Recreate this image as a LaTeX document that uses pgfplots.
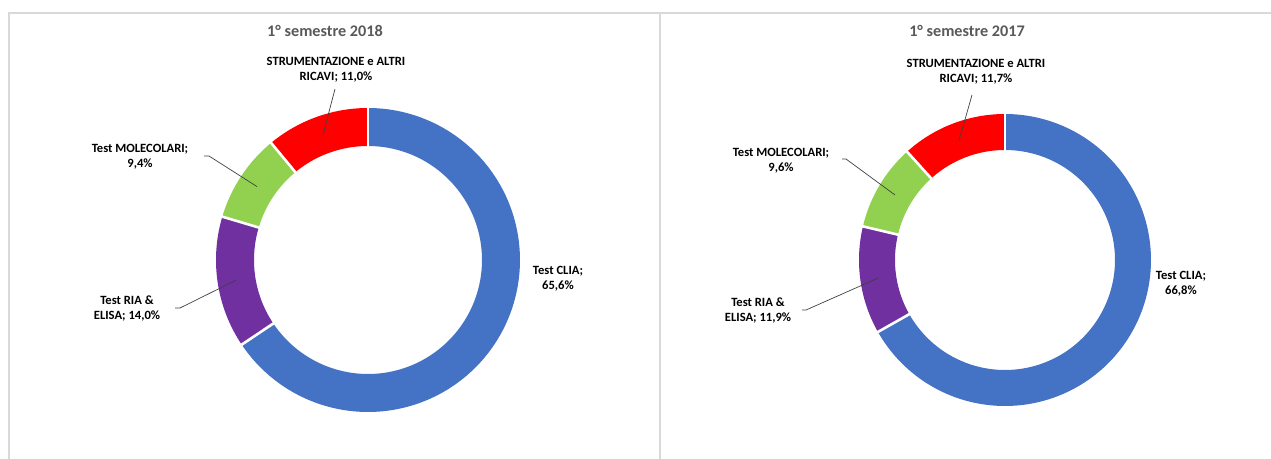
\documentclass[border=0pt]{standalone}
\usepackage{fontspec}
\setmainfont{Carlito}
\usepackage{pgfplots}
\usepackage{pgfplotstable}
\pgfplotsset{compat=1.18}
\definecolor{cblue}{HTML}{4472C4}
\definecolor{cpurple}{HTML}{7030A0}
\definecolor{cgreen}{HTML}{92D050}
\definecolor{cred}{HTML}{FF0000}
\definecolor{cframe}{HTML}{D9D9D9}
\definecolor{ctitle}{HTML}{595959}
\definecolor{cleader}{HTML}{404040}

% 1 semestre 2018
\pgfplotstableread{
name value
CLIA 65.6
RIA 14.0
MOL 9.4
STR 11.0
}\tabA
% 1 semestre 2017
\pgfplotstableread{
name value
CLIA 66.8
RIA 11.9
MOL 9.6
STR 11.7
}\tabB

% cumulative angles (start at 12 o'clock, clockwise)
\newcommand\setangles[2]{%
  \pgfplotstablegetelem{0}{value}\of#1\let\va\pgfplotsretval
  \pgfplotstablegetelem{1}{value}\of#1\let\vb\pgfplotsretval
  \pgfplotstablegetelem{2}{value}\of#1\let\vc\pgfplotsretval
  \pgfplotstablegetelem{3}{value}\of#1\let\vd\pgfplotsretval
  \pgfmathsetmacro\tA{90}%
  \pgfmathsetmacro\tB{\tA-3.6*\va}%
  \pgfmathsetmacro\tC{\tB-3.6*\vb}%
  \pgfmathsetmacro\tD{\tC-3.6*\vc}%
  \pgfmathsetmacro\tE{\tD-3.6*\vd}%
  \expandafter\xdef\csname ang#2A\endcsname{\tA}%
  \expandafter\xdef\csname ang#2B\endcsname{\tB}%
  \expandafter\xdef\csname ang#2C\endcsname{\tC}%
  \expandafter\xdef\csname ang#2D\endcsname{\tD}%
  \expandafter\xdef\csname ang#2E\endcsname{\tE}%
  \pgfmathsetmacro\tm{(\tA+\tB)/2}\expandafter\xdef\csname mid#2a\endcsname{\tm}%
  \pgfmathsetmacro\tm{(\tB+\tC)/2}\expandafter\xdef\csname mid#2b\endcsname{\tm}%
  \pgfmathsetmacro\tm{(\tC+\tD)/2}\expandafter\xdef\csname mid#2c\endcsname{\tm}%
  \pgfmathsetmacro\tm{(\tD+\tE)/2}\expandafter\xdef\csname mid#2d\endcsname{\tm}%
}
\setangles{\tabA}{L}
\setangles{\tabB}{R}

% ring segment: cx, cy, mid radius, thickness, start angle, end angle, colour
\newcommand\seg[7]{%
  \addplot[draw=#7, line width=#4bp, mark=none, domain=#6:#5, samples=150]
    ({#1+#3*cos(x)},{#2+#3*sin(x)});}
% white separator: cx, cy, r1, r2, angle
\newcommand\sep[5]{%
  \addplot[draw=white, line width=2.6bp, mark=none, domain=#3:#4, samples=2]
    ({#1+x*cos(#5)},{#2+x*sin(#5)});}

\tikzset{
  lbl/.style={font=\fontsize{12.6bp}{15bp}\selectfont\bfseries, text=black, align=center, inner sep=0pt},
  ttl/.style={font=\fontsize{16.2bp}{19bp}\selectfont\bfseries, text=ctitle, inner sep=0pt},
  leader/.style={draw=cleader, line width=0.7bp},
}

\begin{document}
\begin{tikzpicture}
\useasboundingbox (0,0) rectangle (1271bp,459bp);
\begin{axis}[
  at={(0,0)}, anchor=south west,
  x=1bp, y=1bp,
  xmin=0, xmax=1271, ymin=0, ymax=459,
  hide axis, clip=false,
]
% frames
\draw[cframe, line width=1.5bp] (axis cs:9,0) -- (axis cs:9,446) -- (axis cs:1271,446);
\draw[cframe, line width=2.2bp] (axis cs:660,0) -- (axis cs:660,446);

% ---- left donut (2018)
\seg{368}{199}{133}{38}{\angLB}{\angLA}{cblue}
\seg{368}{199}{133}{38}{\angLC}{\angLB}{cpurple}
\seg{368}{199}{133}{38}{\angLD}{\angLC}{cgreen}
\seg{368}{199}{133}{38}{\angLE}{\angLD}{cred}
\sep{368}{199}{112}{154}{\angLA}
\sep{368}{199}{112}{154}{\angLB}
\sep{368}{199}{112}{154}{\angLC}
\sep{368}{199}{112}{154}{\angLD}

% ---- right donut (2017)
\seg{1005}{199}{128}{36}{\angRB}{\angRA}{cblue}
\seg{1005}{199}{128}{36}{\angRC}{\angRB}{cpurple}
\seg{1005}{199}{128}{36}{\angRD}{\angRC}{cgreen}
\seg{1005}{199}{128}{36}{\angRE}{\angRD}{cred}
\sep{1005}{199}{108}{148}{\angRA}
\sep{1005}{199}{108}{148}{\angRB}
\sep{1005}{199}{108}{148}{\angRC}
\sep{1005}{199}{108}{148}{\angRD}

% titles
\node[ttl] at (axis cs:325,428) {1° semestre 2018};
\node[ttl] at (axis cs:967,428) {1° semestre 2017};

% left labels
\node[lbl] at (axis cs:336,389.5) {STRUMENTAZIONE e ALTRI\\RICAVI; 11,0\%};
\draw[leader] (axis cs:335,370) -- ([shift={(\midLd:133bp)}]axis cs:368,199);
\node[lbl] at (axis cs:140,302.5) {Test MOLECOLARI;\\9,4\%};
\draw[leader] (axis cs:204,303) -- (axis cs:209,303) -- ([shift={(\midLc:133bp)}]axis cs:368,199);
\node[lbl] at (axis cs:127,150) {Test RIA \&\\ELISA; 14,0\%};
\draw[leader] (axis cs:175,151) -- (axis cs:180,151) -- ([shift={(\midLb:133bp)}]axis cs:368,199);
\node[lbl] at (axis cs:558,180) {Test CLIA;\\65,6\%};

% right labels
\node[lbl] at (axis cs:976,387.5) {STRUMENTAZIONE e ALTRI\\RICAVI; 11,7\%};
\draw[leader] (axis cs:972,364) -- ([shift={(\midRd:128bp)}]axis cs:1005,199);
\node[lbl] at (axis cs:781,298.5) {Test MOLECOLARI;\\9,6\%};
\draw[leader] (axis cs:842,300) -- (axis cs:846,300) -- ([shift={(\midRc:128bp)}]axis cs:1005,199);
\node[lbl] at (axis cs:758,148.5) {Test RIA \&\\ELISA; 11,9\%};
\draw[leader] (axis cs:802,149) -- (axis cs:806,149) -- ([shift={(\midRb:128bp)}]axis cs:1005,199);
\node[lbl] at (axis cs:1181,175.5) {Test CLIA;\\66,8\%};
\end{axis}
\end{tikzpicture}
\end{document}
